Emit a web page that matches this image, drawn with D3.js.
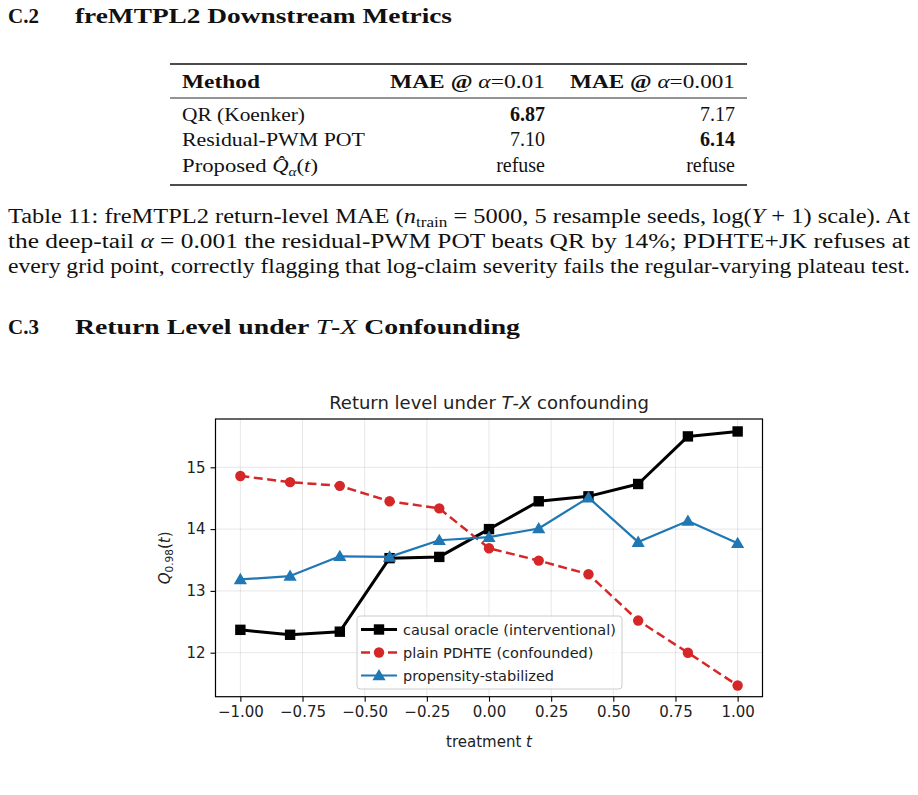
<!DOCTYPE html>
<html><head><meta charset="utf-8">
<script src="https://cdn.jsdelivr.net/npm/d3@7"></script>
<style>
html,body{margin:0;padding:0;background:#fff;}
svg{display:block;}
.serif{font-family:"Liberation Serif","DejaVu Serif",serif;fill:#111;}
.sans{font-family:"DejaVu Sans",sans-serif;fill:#222;}
</style></head>
<body>
<svg id="page" width="918" height="795"></svg>
<script>
// ---------- data ----------
const tValues = [-1.0,-0.8,-0.6,-0.4,-0.2,0.0,0.2,0.4,0.6,0.8,1.0];
const causalOracle = [12.37,12.29,12.34,13.53,13.55,14.00,14.45,14.53,14.73,15.50,15.58];
const plainPDHTE   = [14.86,14.76,14.70,14.45,14.335,13.69,13.49,13.27,12.52,12.00,11.47];
const propensity   = [13.185,13.24,13.56,13.55,13.82,13.87,14.01,14.51,13.79,14.13,13.77];
const seriesNames = ["causal oracle (interventional)","plain PDHTE (confounded)","propensity-stabilized"];
const xTickValues = [-1.0,-0.75,-0.5,-0.25,0.0,0.25,0.5,0.75,1.0];
const yTickValues = [12,13,14,15];
const tableMethods = ["QR (Koenker)","Residual-PWM POT","Proposed"];
const tableMAE01  = ["6.87","7.10","refuse"];
const tableMAE001 = ["7.17","6.14","refuse"];
const tableBold01  = [true,false,false];
const tableBold001 = [false,true,false];

const svg = d3.select("#page");

// ---------- headings ----------
function heading(num, y, parts){
  const t = svg.append("text").attr("class","serif").attr("y",y)
    .style("font-size","21px").style("font-weight","bold");
  t.append("tspan").attr("x",8).text(num);
  const t2 = svg.append("text").attr("class","serif").attr("x",75).attr("y",y)
    .style("font-size","21px").style("font-weight","bold");
  parts.forEach(p=>{ const s=t2.append("tspan").text(p[0]); if(p[1]) s.style("font-style","italic").style("font-weight","normal"); });
  return t2;
}
heading("C.2",23,[["freMTPL2 Downstream Metrics"]]).attr("textLength",377).attr("lengthAdjust","spacingAndGlyphs");
heading("C.3",334,[["Return Level under "],["T",1],["-"],["X",1],[" Confounding"]]).attr("textLength",445).attr("lengthAdjust","spacingAndGlyphs");

// ---------- table ----------
const tbl = svg.append("g");
tbl.append("line").attr("x1",170).attr("x2",747).attr("y1",64).attr("y2",64).attr("stroke","#111").attr("stroke-width",1.7);
tbl.append("line").attr("x1",170).attr("x2",747).attr("y1",98).attr("y2",98).attr("stroke","#111").attr("stroke-width",0.9);
tbl.append("line").attr("x1",170).attr("x2",747).attr("y1",185).attr("y2",185).attr("stroke","#111").attr("stroke-width",1.7);
const fs = "19.5px";
function fit(sel,len){ return sel.attr("textLength",len).attr("lengthAdjust","spacingAndGlyphs"); }
fit(tbl.append("text").attr("class","serif").attr("x",182).attr("y",88).style("font-size",fs).style("font-weight","bold").text("Method"),78);
function hdr(xr, val, len){
  const t = tbl.append("text").attr("class","serif").attr("x",xr-len).attr("y",88).style("font-size",fs);
  t.append("tspan").style("font-weight","bold").text("MAE @ ");
  t.append("tspan").style("font-style","italic").text("α");
  t.append("tspan").text("=" + val);
  fit(t,len);
}
hdr(545,"0.01",155); hdr(735,"0.001",165);
const rowY = [121,146,172];
const methodLen = [123,183,136];
tableMethods.forEach((m,i)=>{
  const t = tbl.append("text").attr("class","serif").attr("x",182).attr("y",rowY[i]).style("font-size",fs);
  t.append("tspan").text(m);
  if(i===2){
    t.append("tspan").text(" ");
    t.append("tspan").style("font-style","italic").text("Q\u0302");
    t.append("tspan").style("font-style","italic").style("font-size","13px").attr("dy",4).text("α");
    t.append("tspan").attr("dy",-4).text("(");
    t.append("tspan").style("font-style","italic").text("t");
    t.append("tspan").text(")");
  }
  fit(t,methodLen[i]);
  tbl.append("text").attr("class","serif").attr("x",545).attr("y",rowY[i]).attr("text-anchor","end")
    .style("font-size","20px").style("font-weight",tableBold01[i]?"bold":"normal").text(tableMAE01[i]);
  tbl.append("text").attr("class","serif").attr("x",735).attr("y",rowY[i]).attr("text-anchor","end")
    .style("font-size","20px").style("font-weight",tableBold001[i]?"bold":"normal").text(tableMAE001[i]);
});

// ---------- caption paragraph ----------
function para(y, parts, len){
  const t = svg.append("text").attr("class","serif").attr("x",8).attr("y",y).style("font-size","20px");
  parts.forEach(p=>{
    const s = t.append("tspan").text(p[0]);
    if(p[1]==="i") s.style("font-style","italic");
    if(p[1]==="sub") s.style("font-size","14px").attr("dy",4);
    if(p[1]==="up") s.attr("dy",-4);
  });
  if(len) t.attr("textLength",len).attr("lengthAdjust","spacingAndGlyphs");
}
para(223,[["Table 11: freMTPL2 return-level MAE ("],["n","i"],["train","sub"],[" = 5000, 5 resample seeds, log(","up"],["Y","i"],[" + 1) scale).  At"]],902);
para(248,[["the deep-tail "],["α","i"],[" = 0.001 the residual-PWM POT beats QR by 14%; PDHTE+JK refuses at"]],902);
para(273,[["every grid point, correctly flagging that log-claim severity fails the regular-varying plateau test."]],902);

// ---------- chart ----------
const L=215.5, R=762.5, T=419, B=696.7;
const x = d3.scaleLinear().domain([-1.1,1.1]).range([L,R]);
const y = d3.scaleLinear().domain([11.288,15.7816]).range([B,T]);
const ch = svg.append("g");

// grid
ch.append("g").selectAll("line").data(xTickValues).join("line")
  .attr("x1",d=>x(d)).attr("x2",d=>x(d)).attr("y1",T).attr("y2",B)
  .attr("stroke","#b0b0b0").attr("stroke-opacity",0.3).attr("stroke-width",1);
ch.append("g").selectAll("line").data(yTickValues).join("line")
  .attr("x1",L).attr("x2",R).attr("y1",d=>y(d)).attr("y2",d=>y(d))
  .attr("stroke","#b0b0b0").attr("stroke-opacity",0.3).attr("stroke-width",1);

// axes
const xAxis = d3.axisBottom(x).tickValues(xTickValues).tickFormat(d3.format(".2f")).tickSize(5).tickPadding(5);
const yAxis = d3.axisLeft(y).tickValues(yTickValues).tickFormat(d3.format("d")).tickSize(5).tickPadding(5);
const gx = ch.append("g").attr("transform",`translate(0,${B})`).call(xAxis);
const gy = ch.append("g").attr("transform",`translate(${L},0)`).call(yAxis);
[gx,gy].forEach(g=>{
  g.select(".domain").remove();
  g.selectAll(".tick line").attr("stroke","#000").attr("stroke-width",1.1);
  g.selectAll(".tick text").attr("fill","#222").style("font-family","DejaVu Sans").style("font-size","15px");
});
ch.append("rect").attr("x",L).attr("y",T).attr("width",R-L).attr("height",B-T)
  .attr("fill","none").attr("stroke","#000").attr("stroke-width",1.2);

// series
const series = [
  {name:seriesNames[0], vals:causalOracle, color:"#000000", width:3, dash:null, marker:"square"},
  {name:seriesNames[1], vals:plainPDHTE, color:"#d62728", width:2.5, dash:"9,4.5", marker:"circle"},
  {name:seriesNames[2], vals:propensity, color:"#1f77b4", width:2.2, dash:null, marker:"triangle"}
];
const line = d3.line().x(d=>x(d[0])).y(d=>y(d[1]));
function drawMarker(g, type, color, cx, cy){
  if(type==="square") g.append("rect").attr("x",cx-5.2).attr("y",cy-5.2).attr("width",10.4).attr("height",10.4).attr("fill",color);
  else if(type==="circle") g.append("circle").attr("cx",cx).attr("cy",cy).attr("r",5.2).attr("fill",color);
  else g.append("path").attr("d",d3.symbol(d3.symbolTriangle,75)()).attr("transform",`translate(${cx},${cy+1})`).attr("fill",color);
}
[0,1,2].forEach(si=>{
  const s = series[si];
  const pts = tValues.map((t,i)=>[t,s.vals[i]]);
  const g = ch.append("g");
  g.append("path").attr("d",line(pts)).attr("fill","none").attr("stroke",s.color)
    .attr("stroke-width",s.width).attr("stroke-dasharray",s.dash).attr("stroke-linejoin","round");
  pts.forEach(p=>drawMarker(g,s.marker,s.color,x(p[0]),y(p[1])));
});

// title & labels
const title = ch.append("text").attr("class","sans").attr("x",(L+R)/2).attr("y",409).attr("text-anchor","middle").style("font-size","18px");
title.append("tspan").text("Return level under ");
title.append("tspan").style("font-style","italic").text("T");
title.append("tspan").text("-");
title.append("tspan").style("font-style","italic").text("X");
title.append("tspan").text(" confounding");

const xl = ch.append("text").attr("class","sans").attr("x",(L+R)/2).attr("y",747).attr("text-anchor","middle").style("font-size","15px");
xl.append("tspan").text("treatment ");
xl.append("tspan").style("font-style","italic").text("t");

const yl = ch.append("text").attr("class","sans").attr("transform",`translate(170,${(T+B)/2}) rotate(-90)`).attr("text-anchor","middle").style("font-size","15px");
yl.append("tspan").style("font-style","italic").text("Q");
yl.append("tspan").style("font-size","10.5px").attr("dy",3).text("0.98");
yl.append("tspan").attr("dy",-3).text("(");
yl.append("tspan").style("font-style","italic").text("t");
yl.append("tspan").text(")");

// legend
const lg = ch.append("g");
lg.append("rect").attr("x",357).attr("y",616).attr("width",265).attr("height",73).attr("rx",3)
  .attr("fill","#fff").attr("fill-opacity",0.8).attr("stroke","#cccccc").attr("stroke-width",1);
const legY = [629.5,652.5,675.5];
series.forEach((s,i)=>{
  lg.append("line").attr("x1",361).attr("x2",397).attr("y1",legY[i]).attr("y2",legY[i])
    .attr("stroke",s.color).attr("stroke-width",s.width).attr("stroke-dasharray",s.dash);
  drawMarker(lg,s.marker,s.color,379,legY[i]);
  lg.append("text").attr("class","sans").attr("x",403).attr("y",legY[i]+5).style("font-size","14.5px").text(s.name);
});
</script>
</body></html>
